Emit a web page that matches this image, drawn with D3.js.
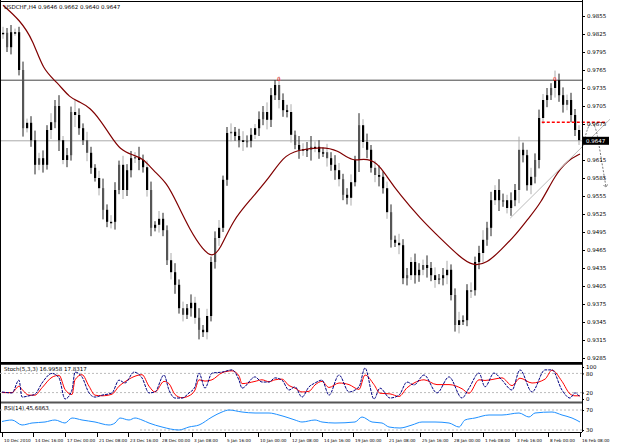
<!DOCTYPE html>
<html lang="en">
<head>
<meta charset="UTF-8">
<title>USDCHF H4</title>
<style>
body { margin: 0; background: #fff; }
text { font-family: "DejaVu Sans", sans-serif; font-size: 5.5px; fill: #000; }
text.date { font-size: 4.2px; }
</style>
</head>
<body>
<svg id="main" width="640" height="445"></svg>
<script src="https://cdn.jsdelivr.net/npm/d3@7/dist/d3.min.js"></script>
<script>
var closes = [.9827,.9803,.9828,.9828,.9765,.9668,.9677,.9648,.9607,.9618,.9607,.9665,.9678,.9705,.9648,.9615,.9623,.9695,.9690,.9668,
.9648,.9627,.9602,.9585,.9568,.9532,.9512,.9512,.9565,.9607,.9565,.9598,.9618,.9620,.9615,.9603,.9565,.9502,.9507,.9517,
.9498,.9448,.9428,.9407,.9368,.9357,.9368,.9377,.9352,.9332,.9328,.9355,.9445,.9485,.9502,.9582,.9660,.9662,.9655,.9648,
.9645,.9647,.9657,.9668,.9683,.9695,.9682,.9723,.9740,.9715,.9698,.9695,.9657,.9640,.9632,.9633,.9632,.9637,.9637,.9628,
.9628,.9618,.9607,.9598,.9583,.9557,.9552,.9578,.9615,.9673,.9645,.9632,.9602,.9590,.9587,.9568,.9528,.9482,.9477,.9473,
.9418,.9423,.9445,.9423,.9432,.9440,.9435,.9423,.9415,.9418,.9423,.9432,.9390,.9340,.9348,.9348,.9398,.9398,.9445,.9460,
.9482,.9502,.9548,.9565,.9548,.9548,.9535,.9548,.9565,.9632,.9623,.9573,.9587,.9615,.9685,.9715,.9723,.9735,.9748,.9723,
.9707,.9715,.9690,.9665,.9648,.9647];
// wick length beyond body, in pips
var wicks = [10,8,12,6,9,14,7,11,16,9,13,8,15,10,18,7,12,9,20,11,
8,14,10,6,12,16,9,11,13,7,15,10,12,8,17,9,11,14,6,13,
10,8,12,15,9,11,7,14,10,16,8,12,9,11,13,7,10,14,8,12,
15,9,11,7,13,10,16,12,8,14,11,9,13,7,15,10,12,18,9,11,
8,14,10,16,12,9,11,13,7,20,10,14,8,12,16,9,11,13,7,15,
10,12,8,14,11,9,16,10,13,7,12,15,9,11,14,8,10,13,9,12,
16,10,14,8,18,11,9,13,10,22,12,9,15,11,14,10,12,8,16,11,
13,9,12,10,8,6];
var maIdx = [0,4.25,7.5,10,13.5,16.75,19.25,21.75,24.25,26.75,29.25,32.5,35,37.5,41,43.5,46.75,50,52.25,54.25,57.5,61.75,66.75,70,73.5,80,83.5,87.5,90,93.5,96,99.25,104.25,109.25,114.25,117.5,121,124.5,128.5,131,134.5,138,141.25,144.25];
var maVal = [.9873,.9848,.9815,.9765,.9745,.9718,.9712,.9702,.9682,.9657,.9632,.9623,.9618,.9598,.9577,.9543,.9498,.9465,.9453,.9465,.9515,.9548,.9587,.9620,.9632,.9637,.9632,.9612,.9618,.9612,.9587,.9557,.9518,.9485,.9453,.9438,.9443,.9465,.9493,.9515,.9543,.9590,.9615,.9625];
var stochX = [0,10,17,20,27,33,40,50,57,63,70,73,80,87,93,100,110,117,123,132,140,147,153,162,167,173,180,187,193,197,203,210,220,230,237,240,253,260,267,273,280,287,293,300,307,313,320,327,337,347,357,363,372,378,388,397,405,412,422,435,447,460,467,477,483,492,500,510,518,530,543,550,560,568,573,578];
var stochK = [22,19,59,6,10,15,50,80,66,0,28,84,69,19,6,12,19,59,50,84,66,19,22,75,28,3,3,19,38,81,34,81,84,91,59,34,69,53,53,66,59,28,38,6,38,50,59,12,75,22,38,97,0,34,3,12,53,44,75,19,69,3,34,81,38,81,59,28,91,22,91,91,28,3,19,6];
var stochD = [20,20,40,30,12,12,35,68,74,30,14,60,76,40,12,10,15,40,54,70,76,40,22,55,48,14,4,10,28,60,56,60,82,88,72,48,55,60,54,60,62,42,34,22,24,44,55,36,50,45,30,75,45,18,16,8,35,50,60,45,45,32,18,60,58,62,66,42,65,50,62,90,55,16,10,10];
var rsiX = [0,10,20,30,43,53,63,70,80,93,107,113,118,127,133,140,147,160,177,187,197,210,220,227,240,253,267,277,287,293,300,313,320,333,353,360,370,380,387,398,410,420,433,447,457,463,473,487,500,517,527,533,550,560,570,578];
var rsiVal = [47,50,40,44,46,50,44,54,50,46,40,44,54,50,54,50,44,36,30,36,40,56,66,70,66,64,64,60,54,50,46,50,46,44,46,56,46,44,36,34,40,46,46,44,36,50,54,60,60,64,56,64,66,60,54,46];
var priceTicks = [.9855,.9825,.9795,.9765,.9735,.9705,.9675,.9615,.9585,.9555,.9525,.9495,.9465,.9435,.9405,.9375,.9345,.9315,.9285];
var dateLabels = ["10 Dec 2010","14 Dec 16:00","17 Dec 00:00","21 Dec 08:00","23 Dec 16:00","28 Dec 00:00","3 Jan 08:00","5 Jan 16:00","10 Jan 00:00","12 Jan 08:00","14 Jan 16:00","19 Jan 00:00","21 Jan 08:00","25 Jan 16:00","28 Jan 00:00","1 Feb 08:00","3 Feb 16:00","8 Feb 00:00","16 Feb 08:00"];
var datePx = [2,33,65,97,128,160,192,225,258,290,322,353,387,420,452,483,515,548,580];
var lastPrice = .9647, resistance = .9748, redLevel = .9678;

var svg = d3.select("#main");
var x = d3.scaleLinear().domain([0, 145]).range([3, 583]);
var xs = d3.scaleLinear().domain([0, 640]).range([0, 640]);
var y = d3.scaleLinear().domain([.9285, .9855]).range([358, 16]);
var ys = d3.scaleLinear().domain([0, 100]).range([399, 367]);
var yr = d3.scaleLinear().domain([30, 70]).range([430, 410]);
var R = 582;

// horizontal levels
svg.append("line").attr("x1", 0).attr("x2", R).attr("y1", y(resistance)).attr("y2", y(resistance)).attr("stroke", "#444").attr("stroke-width", 1);
svg.append("line").attr("x1", 0).attr("x2", R).attr("y1", y(lastPrice)).attr("y2", y(lastPrice)).attr("stroke", "#aaa").attr("stroke-width", 1);

// bars
var g = svg.append("g");
closes.forEach(function(c, i) {
    var o = i ? closes[i - 1] : c;
    var w = wicks[i] / 10000;
    g.append("line").attr("x1", x(i)).attr("x2", x(i))
        .attr("y1", y(Math.max(o, c) + w)).attr("y2", y(Math.min(o, c) - w))
        .attr("stroke", i % 3 ? "#222" : "#aaa").attr("stroke-width", 1);
    g.append("rect").attr("x", x(i) - 1).attr("width", 2.2)
        .attr("y", y(Math.max(o, c))).attr("height", Math.max(1.5, y(Math.min(o, c)) - y(Math.max(o, c))))
        .attr("fill", i % 4 == 1 ? "#555" : "#000");
});

// moving average
svg.append("path").datum(maIdx.map(function(d, i) { return [x(d), y(maVal[i])]; }))
    .attr("d", d3.line().curve(d3.curveBasis)).attr("fill", "none").attr("stroke", "#800000").attr("stroke-width", 1.2);

// annotations
svg.append("line").attr("x1", x(134.7)).attr("x2", 607).attr("y1", y(redLevel)).attr("y2", y(redLevel))
    .attr("stroke", "#f00").attr("stroke-width", 1.5).attr("stroke-dasharray", "3,2");
svg.append("line").attr("x1", x(126.8)).attr("x2", 610).attr("y1", y(.9518)).attr("y2", y(.9683))
    .attr("stroke", "#bbb").attr("stroke-width", 1);
svg.append("defs").append("marker").attr("id", "ah").attr("viewBox", "0 0 10 10").attr("refX", 5).attr("refY", 5)
    .attr("markerWidth", 5).attr("markerHeight", 5).attr("orient", "auto")
    .append("path").attr("d", "M0,0 L5,5 L0,10").attr("fill", "none").attr("stroke", "#777").attr("stroke-width", 1.5);
svg.append("path").attr("d", "M584," + y(.9645) + " Q592," + y(.9705) + " 598," + y(.9650) + " L606," + y(.9570))
    .attr("fill", "none").attr("stroke", "#777").attr("stroke-dasharray", "2,1.5").attr("marker-end", "url(#ah)");
[[68.5, .9740], [137.5, .9740]].forEach(function(d) {
    svg.append("text").attr("x", x(d[0])).attr("y", y(d[1]) - 4).style("fill", "#f00").text("0");
});

// frames
svg.append("rect").attr("x", 0.5).attr("y", 1.5).attr("width", R).attr("height", 361).attr("fill", "none").attr("stroke", "#000");
svg.append("line").attr("x1", 0).attr("x2", R).attr("y1", 363.5).attr("y2", 363.5).attr("stroke", "#000").attr("stroke-width", 2.5);
svg.append("line").attr("x1", 0).attr("x2", R).attr("y1", 402.5).attr("y2", 402.5).attr("stroke", "#555").attr("stroke-width", 2);
svg.append("line").attr("x1", 0.5).attr("x2", 0.5).attr("y1", 0).attr("y2", 432).attr("stroke", "#000");
svg.append("line").attr("x1", R + .5).attr("x2", R + .5).attr("y1", 0).attr("y2", 432).attr("stroke", "#000");
svg.append("line").attr("x1", 0).attr("x2", R).attr("y1", 432.5).attr("y2", 432.5).attr("stroke", "#000");

// stochastic
[80, 20].forEach(function(v) {
    svg.append("line").attr("x1", 0).attr("x2", R).attr("y1", ys(v)).attr("y2", ys(v)).attr("stroke", "#bbb").attr("stroke-dasharray", "2,2");
});
svg.append("path").datum(stochX.map(function(d, i) { return [xs(d + 2), ys(stochD[i])]; }))
    .attr("d", d3.line().curve(d3.curveMonotoneX)).attr("fill", "none").attr("stroke", "#f00").attr("stroke-width", 1);
svg.append("path").datum(stochX.map(function(d, i) { return [xs(d + 2), ys(stochK[i])]; }))
    .attr("d", d3.line().curve(d3.curveMonotoneX)).attr("fill", "none").attr("stroke", "#000080").attr("stroke-width", 1).attr("stroke-dasharray", "3,1");
svg.append("text").attr("x", 4).attr("y", 371).text("Stoch(5,3,3) 16.9958 17.8317");

// RSI
[70, 30].forEach(function(v) {
    svg.append("line").attr("x1", v == 70 ? 0 : 140).attr("x2", R).attr("y1", yr(v)).attr("y2", yr(v)).attr("stroke", "#bbb").attr("stroke-dasharray", "2,2");
});
svg.append("path").datum(rsiX.map(function(d, i) { return [xs(d + 2), yr(rsiVal[i])]; }))
    .attr("d", d3.line().curve(d3.curveMonotoneX)).attr("fill", "none").attr("stroke", "#1e90ff").attr("stroke-width", 1);
svg.append("text").attr("x", 4).attr("y", 410).text("RSI(14) 45.6863");

// right axis
var ax = svg.append("g").attr("transform", "translate(" + R + ",0)");
ax.call(d3.axisRight(y).tickValues(priceTicks).tickSize(3).tickFormat(d3.format(".4f")))
    .call(function(a) { a.select(".domain").remove(); a.selectAll("text").attr("x", 5).style("font-size", "5.5px").style("font-family", "DejaVu Sans"); });
svg.append("rect").attr("x", R + 1).attr("y", y(lastPrice) - 4).attr("width", 26).attr("height", 8).attr("fill", "#000");
svg.append("text").attr("x", R + 4).attr("y", y(lastPrice) + 2).style("fill", "#fff").text(d3.format(".4f")(lastPrice));
var sa = svg.append("g").attr("transform", "translate(" + R + ",0)");
sa.call(d3.axisRight(ys).tickValues([100, 80, 20, 0]).tickSize(2))
    .call(function(a) { a.select(".domain").remove(); a.selectAll("text").attr("x", 4).style("font-size", "5.5px"); });
var ra = svg.append("g").attr("transform", "translate(" + R + ",0)");
ra.call(d3.axisRight(yr).tickValues([70, 30]).tickSize(2))
    .call(function(a) { a.select(".domain").remove(); a.selectAll("text").attr("x", 4).style("font-size", "5.5px"); });

// date axis
datePx.forEach(function(px, i) {
    svg.append("line").attr("x1", xs(px) + .5).attr("x2", xs(px) + .5).attr("y1", 433).attr("y2", 437).attr("stroke", "#000");
    svg.append("text").attr("class", "date").attr("x", xs(px) + 2).attr("y", 442).text(dateLabels[i]);
});

svg.append("text").attr("x", 4).attr("y", 9).text("USDCHF,H4  0.9646 0.9662 0.9640 0.9647");
</script>
</body>
</html>
